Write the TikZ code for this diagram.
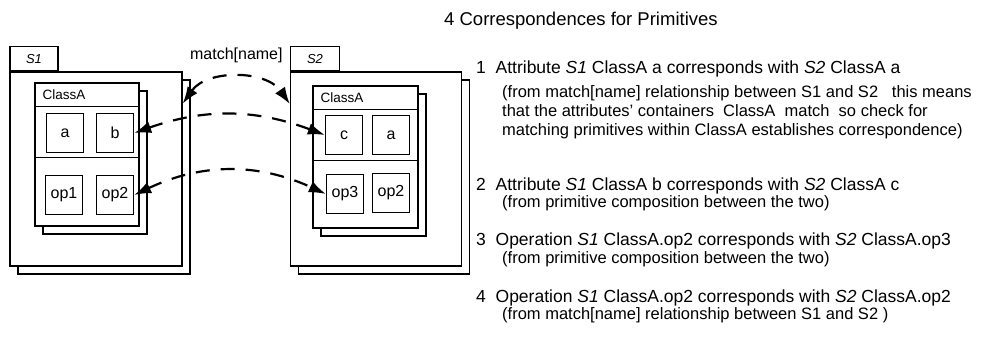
\documentclass[tikz,border=0pt]{standalone}
\usepackage{fontspec}
\setmainfont{Liberation Sans}
\usetikzlibrary{positioning,calc,arrows.meta,shadows}

\tikzset{
  pkg/.style={draw, fill=white, line width=1.3pt, inner sep=0pt,
    copy shadow={shadow xshift=8pt, shadow yshift=-8pt, draw, fill=white, line width=1.3pt}},
  pkgtab/.style={draw, fill=white, line width=1.3pt, inner sep=0pt, minimum height=24pt,
    font=\fontsize{13}{13}\selectfont\itshape},
  cls/.style={draw, fill=white, line width=1.3pt, inner sep=0pt,
    copy shadow={shadow xshift=8pt, shadow yshift=-8pt, draw, fill=white, line width=1.3pt}},
  clsname/.style={anchor=west, inner sep=0pt, font=\fontsize{13.5}{14}\selectfont},
  sep/.style={line width=1.3pt},
  member/.style={draw, fill=white, line width=1.3pt, inner sep=0pt,
    minimum width=37pt, minimum height=39pt, font=\fontsize{16}{16}\selectfont},
  corr/.style={line width=2.2pt, dash pattern=on 14pt off 11pt,
    {Latex[length=17pt,width=12pt]}-{Latex[length=17pt,width=12pt]}},
  headtxt/.style={anchor=base west, inner sep=0pt, font=\fontsize{17.5}{19}\selectfont},
  notetxt/.style={anchor=north west, inner sep=0pt, align=left, font=\fontsize{16.5}{19}\selectfont},
}

\begin{document}
\begin{tikzpicture}[x=1pt, y=-1pt]
  \useasboundingbox (0,0) rectangle (984,344);

  % package S1
  \node[pkg, minimum width=172pt, minimum height=194pt] (s1) at (96,169) {};
  \node[pkgtab, minimum width=48pt, anchor=south west] (s1tab) at (s1.north west) {S1};
  \node[cls, minimum width=104pt, minimum height=143pt] (s1cls) at (87,154.5) {};
  \node[clsname] (s1name) at ($(s1cls.north west)+(8,12)$) {ClassA};
  \draw[sep] ($(s1cls.north west)+(0,24)$) -- ($(s1cls.north east)+(0,24)$);
  \draw[sep] ($(s1cls.north west)+(0,75)$) -- ($(s1cls.north east)+(0,75)$);
  \node[member] (s1a) at (65,133) {a};
  \node[member] (s1b) at (115,133) {b};
  \node[member] (s1op1) at (64,195) {op1};
  \node[member] (s1op2) at (115,195) {op2};

  % package S2
  \node[pkg, minimum width=171pt, minimum height=194pt] (s2) at (376,169) {};
  \node[pkgtab, minimum width=49pt, anchor=south west] (s2tab) at (s2.north west) {S2};
  \node[cls, minimum width=105pt, minimum height=142pt] (s2cls) at (365.5,157) {};
  \node[clsname] (s2name) at ($(s2cls.north west)+(8,12)$) {ClassA};
  \draw[sep] ($(s2cls.north west)+(0,24)$) -- ($(s2cls.north east)+(0,24)$);
  \draw[sep] ($(s2cls.north west)+(0,75)$) -- ($(s2cls.north east)+(0,75)$);
  \node[member] (s2c) at (344,135) {c};
  \node[member] (s2a) at (391,135) {a};
  \node[member] (s2op3) at (345,194) {op3};
  \node[member] (s2op2) at (391,193) {op2};

  % correspondences
  \draw[corr] (s1.37) to[bend left=55]
    node[midway, above=11pt, font=\fontsize{16}{16}\selectfont] (matchlbl) {match[name]} (s2.143);
  \draw[corr] (s1b.east) to[bend left=20] (s2c.west);
  \draw[corr] (s1op2.east) to[bend left=25] (s2op3.west);

  % list on the right
  \node[headtxt, font=\fontsize{18.5}{20}\selectfont] (title) at (444,26) {4 Correspondences for Primitives};
  \node[headtxt] (h1) at (476,74) {1\ \ Attribute \textit{S1} ClassA a corresponds with \textit{S2} ClassA a};
  \node[notetxt] (n1) at (502,85.5) {(from match[name] relationship between S1 and S2\ \ \ this means\\
    that the attributes' containers\ \ ClassA\ \ match\ \ so check for\\
    matching primitives within ClassA establishes correspondence)};
  \node[headtxt] (h2) at (476,191) {2\ \ Attribute \textit{S1} ClassA b corresponds with \textit{S2} ClassA c};
  \node[notetxt] (n2) at (502,195.5) {(from primitive composition between the two)};
  \node[headtxt] (h3) at (476,246) {3\ \ Operation \textit{S1} ClassA.op2 corresponds with \textit{S2} ClassA.op3};
  \node[notetxt] (n3) at (502,251.5) {(from primitive composition between the two)};
  \node[headtxt] (h4) at (476,302) {4\ \ Operation \textit{S1} ClassA.op2 corresponds with \textit{S2} ClassA.op2};
  \node[notetxt] (n4) at (502,307.5) {(from match[name] relationship between S1 and S2 )};
\end{tikzpicture}
\end{document}
